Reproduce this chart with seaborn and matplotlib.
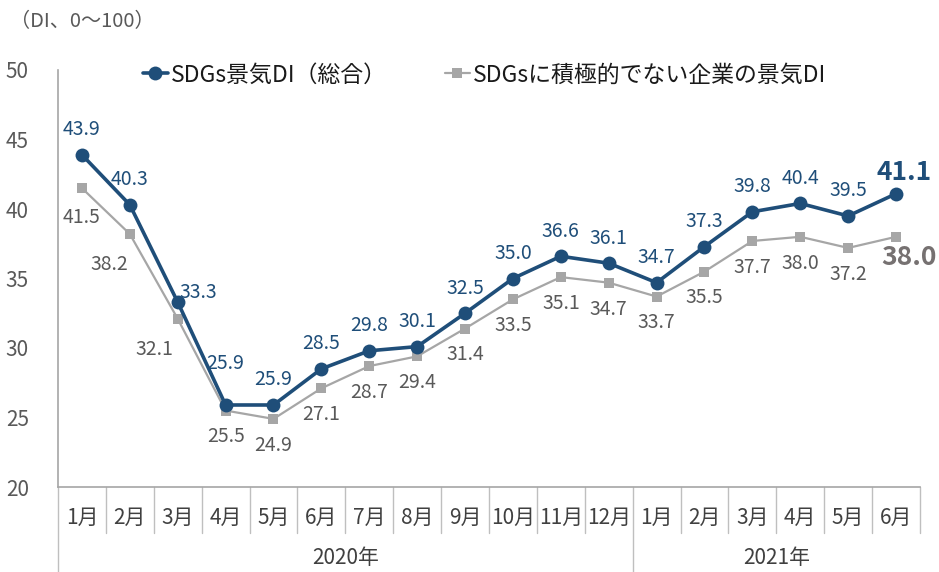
import numpy as np
import pandas as pd
import matplotlib
matplotlib.use("Agg")
from matplotlib import pyplot as plt
import seaborn as sns

# データ
months = ["1月", "2月", "3月", "4月", "5月", "6月", "7月", "8月", "9月", "10月", "11月", "12月",
          "1月", "2月", "3月", "4月", "5月", "6月"]
years = ["2020年", "2021年"]
year_counts = [12, 6]
sdgs_di = [43.9, 40.3, 33.3, 25.9, 25.9, 28.5, 29.8, 30.1, 32.5, 35.0, 36.6, 36.1,
           34.7, 37.3, 39.8, 40.4, 39.5, 41.1]
non_sdgs_di = [41.5, 38.2, 32.1, 25.5, 24.9, 27.1, 28.7, 29.4, 31.4, 33.5, 35.1, 34.7,
               33.7, 35.5, 37.7, 38.0, 37.2, 38.0]
series_names = ["SDGs景気DI（総合）", "SDGsに積極的でない企業の景気DI"]

NAVY = "#1F4E79"
GRAY = "#A6A6A6"
TXT_GRAY = "#595959"

sns.set_style("white")
plt.rcParams["font.family"] = ["Noto Sans CJK JP", "DejaVu Sans"]

idx = np.arange(len(months))
df = pd.DataFrame({
    "x": np.concatenate([idx, idx]),
    "DI": sdgs_di + non_sdgs_di,
    "系列": [series_names[0]] * len(idx) + [series_names[1]] * len(idx),
})

fig = plt.figure(figsize=(9.39, 5.72), dpi=100)
ax = fig.add_axes([58 / 939, 1 - 487 / 572, (920 - 58) / 939, 417 / 572])

sns.lineplot(data=df, x="x", y="DI", hue="系列", style="系列",
             palette={series_names[0]: NAVY, series_names[1]: GRAY},
             markers={series_names[0]: "o", series_names[1]: "s"},
             dashes=False, ax=ax, legend=False)
for line, lw, ms in zip(ax.lines, [2.6, 1.6], [10, 7]):
    line.set_linewidth(lw)
    line.set_markersize(ms)
    line.set_markeredgewidth(0)
# 紺の線を前面に
ax.lines[0].set_zorder(3)
ax.lines[1].set_zorder(2)

# ラベル
navy_off = {2: (15, 7), 3: (0, 30)}
gray_off = {1: (-15, -22), 2: (-17, -22), 0: (0, -21)}
n = len(idx)
for i in range(n):
    last = i == n - 1
    dx, dy = navy_off.get(i, (0, 18))
    ax.annotate(f"{sdgs_di[i]:.1f}", (i, sdgs_di[i]), xytext=(6 if last else dx, 15 if last else dy),
                textcoords="offset points", ha="center", va="center",
                color=NAVY, fontsize=19 if last else 14,
                fontweight="bold" if last else "normal", zorder=5, annotation_clip=False)
    dx, dy = gray_off.get(i, (0, -19))
    ax.annotate(f"{non_sdgs_di[i]:.1f}", (i, non_sdgs_di[i]), xytext=(9 if last else dx, -15 if last else dy),
                textcoords="offset points", ha="center", va="center",
                color="#767171" if last else TXT_GRAY, fontsize=19 if last else 14,
                fontweight="bold" if last else "normal", zorder=5, annotation_clip=False)

ax.set_xlim(-0.5, n - 0.5)
ax.set_ylim(20, 50)
ax.set_yticks(range(20, 51, 5))
ax.tick_params(axis="y", direction="in", length=4, color="#A6A6A6", pad=21,
               labelsize=15, labelcolor=TXT_GRAY)
ax.set_xticks([])
ax.set_xlabel("")
ax.set_ylabel("")
for s in ["top", "right"]:
    ax.spines[s].set_visible(False)
for s in ["left", "bottom"]:
    ax.spines[s].set_color("#A6A6A6")
    ax.spines[s].set_linewidth(1.2)

# 横軸の月・年ラベルと区切り線
trans = ax.get_xaxis_transform()
month_sep = -46 / 417
year_sep = -86 / 417
for i, m in enumerate(months):
    ax.text(i, -31 / 417, m, transform=trans, ha="center", va="center",
            fontsize=15, color="#404040")
year_edges = np.concatenate([[0], np.cumsum(year_counts)])
for k in range(n + 1):
    bottom = year_sep if k in year_edges[:-1] else month_sep
    ax.plot([k - 0.5, k - 0.5], [0, bottom], transform=trans, color="#BFBFBF",
            lw=1, clip_on=False)
for y, a, b in zip(years, year_edges[:-1], year_edges[1:]):
    ax.text((a + b - 1) / 2, -71 / 417, y, transform=trans, ha="center", va="center",
            fontsize=15, color="#404040")

# 凡例
handles = [plt.Line2D([], [], color=NAVY, marker="o", lw=2.6, ms=10, mew=0),
           plt.Line2D([], [], color=GRAY, marker="s", lw=1.6, ms=7, mew=0)]
ax.legend(handles, series_names, loc="center left", bbox_to_anchor=(0.085, 0.988), ncol=2,
          frameon=False, fontsize=16.5, handlelength=1.1, handletextpad=0.15,
          columnspacing=2.5, labelcolor="#1a1a1a", borderpad=0)

fig.text(10 / 939, 1 - 22 / 572, "（DI、0～100）", ha="left", va="center",
         fontsize=14.5, color=TXT_GRAY)

fig.savefig("out.png", dpi=100)
